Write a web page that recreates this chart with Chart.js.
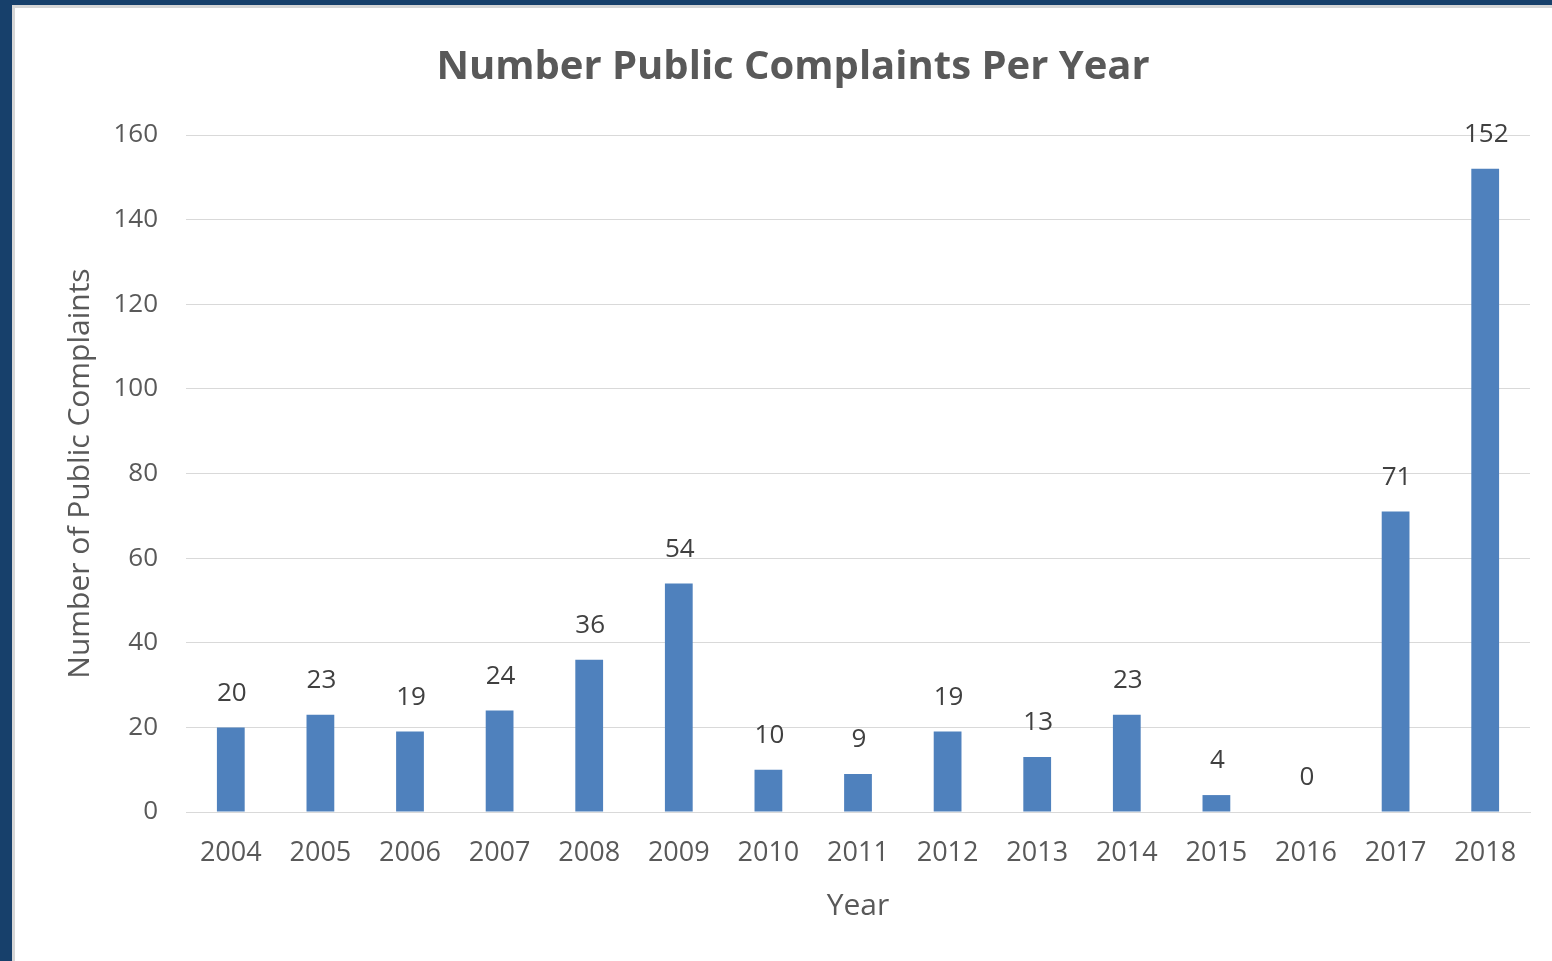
<!DOCTYPE html>
<html>
<head>
<meta charset="utf-8">
<script src="https://cdn.jsdelivr.net/npm/chart.js@4"></script>
<style>
  body { margin: 0; background: #17406b; width: 1552px; height: 961px; overflow: hidden; }
  #marco { position: absolute; left: 12px; top: 5px; width: 1537px; height: 953px;
           border-left: 3px solid #d6d6d6; border-top: 3px solid #d6d6d6; background: #fff; }
  #caja { position: absolute; left: 0; top: 0; width: 1537px; height: 953px; }
</style>
</head>
<body>
<div id="marco"><div id="caja"><canvas id="graficoQuejas"></canvas></div></div>
<script>
const anios = ['2004', '2005', '2006', '2007', '2008', '2009', '2010', '2011', '2012', '2013', '2014', '2015', '2016', '2017', '2018'];
const quejas = [20, 23, 19, 24, 36, 54, 10, 9, 19, 13, 23, 4, 0, 71, 152];
const ticksY = [0, 20, 40, 60, 80, 100, 120, 140, 160];

const fuente = '"Open Sans", Lato, sans-serif';

// etiquetas de valor encima de cada barra
const etiquetasValor = {
    id: 'etiquetasValor',
    afterDatasetsDraw(chart) {
        const ctx = chart.ctx;
        const meta = chart.getDatasetMeta(0);
        ctx.save();
        ctx.font = '26px ' + fuente;
        ctx.fillStyle = '#404040';
        ctx.textAlign = 'center';
        ctx.textBaseline = 'middle';
        meta.data.forEach((barra, i) => {
            ctx.fillText(String(quejas[i]), barra.x + 1, barra.y - 34);
        });
        ctx.restore();
    }
};

const ctx = document.getElementById('graficoQuejas').getContext('2d');
new Chart(ctx, {
    type: 'bar',
    data: {
        labels: anios,
        datasets: [{
            label: 'Quejas',
            data: quejas,
            backgroundColor: '#4f81bd',
            borderWidth: 0,
            categoryPercentage: 1,
            barPercentage: 0.31
        }]
    },
    options: {
        responsive: true,
        maintainAspectRatio: false,
        animation: false,
        layout: { padding: { left: 41, right: 22, top: 1, bottom: 0 } },
        plugins: {
            legend: { display: false },
            tooltip: { enabled: false },
            title: {
                display: true,
                text: 'Number Public Complaints Per Year',
                color: '#595959',
                font: { family: fuente, size: 40, weight: 'bold', lineHeight: 1.2 },
                padding: { top: 35, bottom: 43 }
            }
        },
        scales: {
            x: {
                grid: { display: false },
                border: { color: '#d9d9d9', width: 1 },
                ticks: { color: '#595959', font: { family: fuente, size: 27 }, padding: 17, maxRotation: 0 },
                title: {
                    display: true, text: 'Year', color: '#595959',
                    font: { family: fuente, size: 30, lineHeight: 1.2 },
                    padding: { top: 0, bottom: 37 }
                },
                afterFit(escala) { escala.height = 149; }
            },
            y: {
                min: 0,
                max: 160,
                afterBuildTicks(escala) { escala.ticks = ticksY.map(v => ({ value: v })); },
                grid: { color: '#d9d9d9', drawTicks: false },
                border: { display: false },
                ticks: { color: '#595959', font: { family: fuente, size: 26 }, padding: 28 },
                title: {
                    display: true, text: 'Number of Public Complaints', color: '#595959',
                    font: { family: fuente, size: 30, lineHeight: 1.2 },
                    padding: { top: 6, bottom: 0 }
                },
                afterFit(escala) { escala.width = 130; }
            }
        }
    },
    plugins: [etiquetasValor]
});
</script>
</body>
</html>
